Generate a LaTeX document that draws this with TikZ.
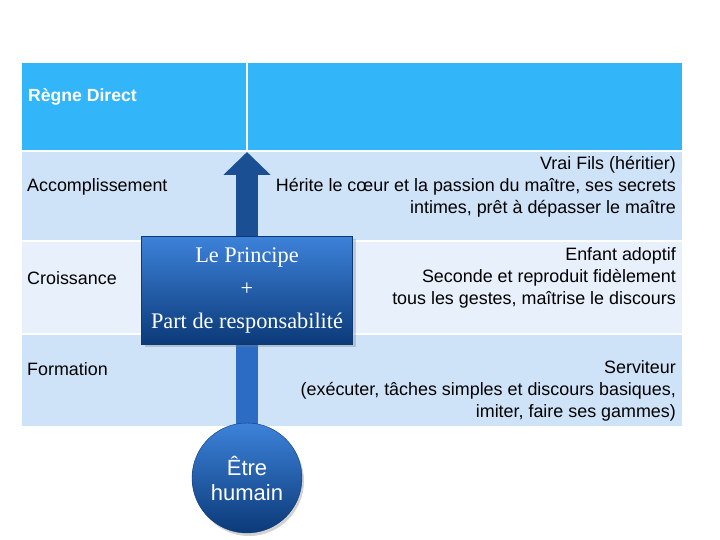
\documentclass[tikz,border=0pt]{standalone}
\usepackage{fontspec}
\setmainfont{Liberation Sans}
\newfontfamily\principefont{Liberation Serif}
\usetikzlibrary{positioning,arrows.meta,shadows}
\definecolor{hdrblue}{HTML}{33B5F9}
\definecolor{rowdark}{HTML}{CFE3F8}
\definecolor{rowlight}{HTML}{E8F1FB}
\definecolor{shaftdark}{HTML}{1B4F94}
\definecolor{shaftmid}{HTML}{2C6CC4}
\definecolor{boxtop}{HTML}{3D82DA}
\definecolor{boxbot}{HTML}{0B3A78}
\pgfdeclarelayer{tbl}
\pgfdeclarelayer{shaft}
\pgfsetlayers{tbl,shaft,main}

\begin{document}
\begin{tikzpicture}[
  x=1pt, y=-1pt,
  font=\fontsize{17.9}{22}\selectfont,
  >=Latex,
  cell/.style={draw=white, line width=2pt, anchor=north west, inner sep=0pt},
  lbl/.style={anchor=west, inner sep=0pt},
  desc/.style={anchor=east, align=right, inner sep=0pt},
  shaftline/.style={line width=22pt},
  principe/.style={draw=boxbot, fill=boxtop, top color=boxtop, bottom color=boxbot,
    text=white, align=center, minimum width=211pt, minimum height=108pt,
    font=\principefont\fontsize{22.3}{33}\selectfont,
    drop shadow={opacity=0.35, shadow xshift=3pt, shadow yshift=-3pt}},
  humain/.style={circle, draw=boxbot, top color=boxtop, bottom color=boxbot,
    text=white, align=center, minimum size=110pt, inner sep=0pt,
    font=\fontsize{22}{25}\selectfont,
    drop shadow={opacity=0.35, shadow xshift=2pt, shadow yshift=-3pt}},
]
  \useasboundingbox (0,0) rectangle (720,540);
  % table
  \begin{pgfonlayer}{tbl}
    \node[cell, fill=hdrblue, minimum width=226pt, minimum height=89pt] (hdrL) at (20,61) {};
    \node[cell, fill=hdrblue, minimum width=436pt, minimum height=89pt] (hdrR) at (246,61) {};
    \node[cell, fill=rowdark, minimum width=662pt, minimum height=90pt] (accRow) at (20,150) {};
    \node[cell, fill=rowlight, minimum width=662pt, minimum height=93pt] (croRow) at (20,240) {};
    \node[cell, fill=rowdark, minimum width=662pt, minimum height=93pt] (forRow) at (20,333) {};
  \end{pgfonlayer}
  \node[lbl, text=white, font=\fontsize{17.6}{22}\selectfont\bfseries] (regne) at (28,97) {Règne Direct};
  \node[lbl] (accLbl) at (27,187) {Accomplissement};
  \node[lbl] (croLbl) at (27,278) {Croissance};
  \node[lbl] (forLbl) at (27,369) {Formation};
  \node[desc] (accTxt) at (676,187)
    {Vrai Fils (héritier)\\Hérite le cœur et la passion du maître, ses secrets\\intimes, prêt à dépasser le maître};
  \node[desc] (croTxt) at (676,278)
    {Enfant adoptif\\Seconde et reproduit fidèlement\\tous les gestes, maîtrise le discours};
  \node[desc] (forTxt) at (676,391)
    {Serviteur\\(exécuter, tâches simples et discours basiques,\\imiter, faire ses gammes)};
  % principle and human
  \node[principe] (princ) at (247,290) {Le Principe\\+\\Part de responsabilité};
  \node[humain] (human) at (247,478) {Être\\humain};
  \coordinate (tip) at (hdrL.south east);
  \begin{pgfonlayer}{shaft}
    \draw[shaftline, shaftmid] (human.center) -- (princ.center);
    \draw[shaftline, shaftdark, -{Triangle[width=46pt, length=23pt]}]
      (princ.center) -- (tip -| princ.center);
  \end{pgfonlayer}
\end{tikzpicture}
\end{document}
